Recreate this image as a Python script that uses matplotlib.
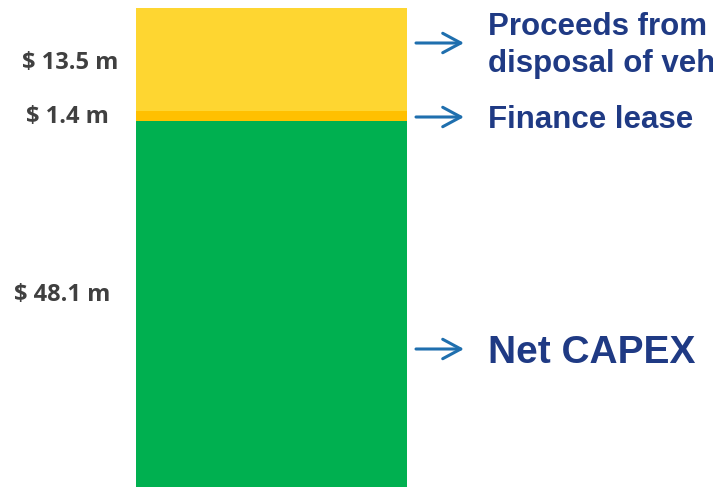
import matplotlib
matplotlib.use("Agg")
import matplotlib.pyplot as plt
from matplotlib.patches import FancyArrowPatch

segments = ["Net CAPEX", "Finance lease", "Proceeds from\ndisposal of vehicles"]
values = [48.1, 1.4, 13.5]
colors = ["#00B050", "#FFC000", "#FED631"]
value_labels = [f"$ {v} m" for v in values]

W, H = 713, 487
fig = plt.figure(figsize=(W / 100, H / 100), dpi=100)
ax = fig.add_axes([136 / W, 0, 271 / W, 479 / H])
bottom = 0
for v, c in zip(values, colors):
    ax.bar(0, v, width=1, bottom=bottom, align="edge", color=c, edgecolor="none")
    bottom += v
ax.set_xlim(0, 1)
ax.set_ylim(0, sum(values))
ax.axis("off")

def fy(py):
    return 1 - py / H

# value labels (left)
label_pos = [(62, 295), (67, 117.5), (70, 63.5)]
for lab, (px, py) in zip(value_labels, label_pos):
    fig.text(px / W, fy(py), lab, ha="center", va="center", fontsize=17,
             fontweight="bold", color="#404040", family="Open Sans")

# category labels (right) with arrows
navy = "#1F3A84"
arrow_c = "#1F6FAE"
cat_specs = [
    (segments[0], [363], 28),
    (segments[1], [128], 22.5),
    (segments[2], [35, 72], 22.5),
]
arrow_y = [349, 117, 43]
for (txt, baselines, fs), ay in zip(cat_specs, arrow_y):
    for line, by in zip(txt.split("\n"), baselines):
        fig.text(488 / W, fy(by), line, ha="left", va="baseline", fontsize=fs,
                 fontweight="bold", color=navy, family="Liberation Sans")
    fig.add_artist(FancyArrowPatch(
        (416 / W, fy(ay)), (464 / W, fy(ay)), transform=fig.transFigure,
        arrowstyle="->,head_length=13,head_width=7", lw=2.2, color=arrow_c,
        mutation_scale=1, shrinkA=0, shrinkB=0))

fig.savefig("out.png", dpi=100)
